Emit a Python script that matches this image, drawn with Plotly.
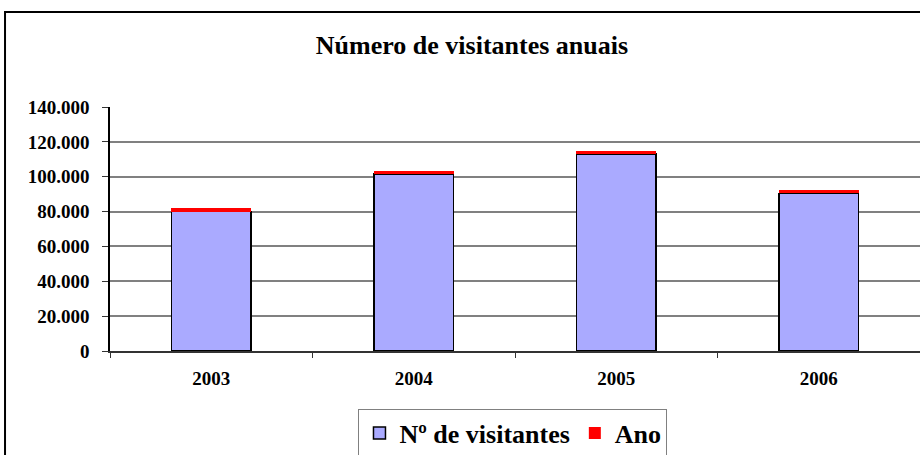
import plotly.graph_objects as go

categories = ["2003", "2004", "2005", "2006"]
visitantes = [80000, 101500, 113000, 90500]
ano = [2003, 2004, 2005, 2006]
y_ticks = [0, 20000, 40000, 60000, 80000, 100000, 120000, 140000]

serif = "Liberation Serif, Times New Roman, serif"

fig = go.Figure()
fig.add_trace(go.Bar(
    x=categories, y=visitantes, name="Nº de visitantes",
    marker=dict(color="#AAAAFF", line=dict(color="#000000", width=1.5)),
))
fig.add_trace(go.Bar(
    x=categories, y=ano, name="Ano",
    marker=dict(color="#FF0000", line=dict(color="#FF0000", width=0)),
))

fig.update_layout(
    width=920, height=455,
    margin=dict(l=110, r=0, t=107, b=104, autoexpand=False),
    barmode="stack",
    bargap=0.605,
    paper_bgcolor="white",
    plot_bgcolor="white",
    separators=",.",
    title=dict(
        text="<b>Número de visitantes anuais</b>",
        font=dict(family=serif, size=26, color="black"),
        x=0.513, xanchor="center", y=0.901, yanchor="middle",
    ),
    legend=dict(
        orientation="h",
        x=0.4975, xanchor="center",
        y=-0.236, yanchor="top",
        bordercolor="#808080", borderwidth=1,
        font=dict(family=serif, size=26, color="black", weight="bold"),
        traceorder="normal",
        itemwidth=30,
    ),
    xaxis=dict(
        type="category",
        automargin=False,
        showgrid=False,
        showline=True, linecolor="#333333", linewidth=2,
        ticks="outside", tickson="boundaries", ticklen=5, tickcolor="#333333",
        tickfont=dict(family=serif, size=19, color="black", weight="bold"),
        ticklabelstandoff=9,
    ),
    yaxis=dict(
        range=[0, 140000],
        automargin=False,
        tickvals=y_ticks,
        tickformat=",d",
        showgrid=True, gridcolor="#808080", gridwidth=2,
        showline=True, linecolor="#000000", linewidth=1.5,
        ticks="outside", ticklen=6, tickcolor="#333333",
        tickfont=dict(family=serif, size=19, color="black", weight="bold"),
        ticklabelstandoff=9,
        zeroline=False,
    ),
    shapes=[dict(
        type="rect", xref="paper", yref="paper",
        x0=-0.1296, x1=1.05, y0=-0.6, y1=1.389,
        line=dict(color="black", width=2), fillcolor="rgba(0,0,0,0)",
        layer="below",
    )],
)

fig.write_html("out.html", config={"displayModeBar": False},
               post_script="document.body.style.margin='0';")
